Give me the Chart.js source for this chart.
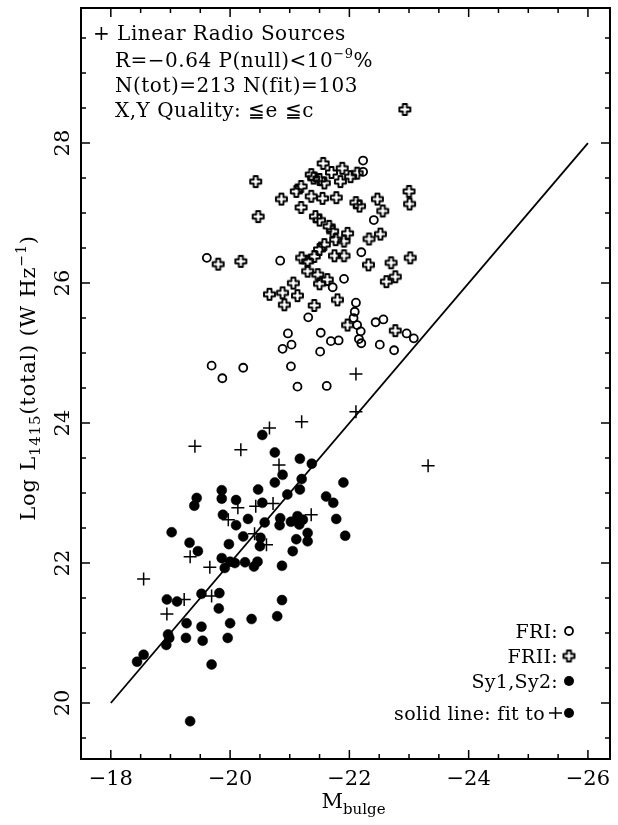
<!DOCTYPE html>
<html>
<head>
<meta charset="utf-8">
<script src="https://cdn.jsdelivr.net/npm/chart.js@4.4.1/dist/chart.umd.min.js"></script>
<style>
  html, body { margin: 0; padding: 0; background: #fff; }
  #wrap { width: 618px; height: 825px; }
</style>
</head>
<body>
<div id="wrap"><canvas id="myChart"></canvas></div>
<script>
// linear radio sources (+)
const lrsX = [-22.11, -22.11, -21.20, -20.66, -19.41, -20.18, -20.82, -20.13, -19.97, -20.43, -20.72,
  -21.36, -20.41, -20.61, -19.33, -19.66, -18.55, -19.23, -19.69, -18.94, -23.32];
const lrsY = [24.16, 24.70, 24.02, 23.93, 23.67, 23.62, 23.40, 22.79, 22.62, 22.81, 22.85,
  22.69, 22.42, 22.26, 22.09, 21.94, 21.77, 21.48, 21.53, 21.27, 23.39];

// FRI (open circles)
const friX = [-22.23, -22.23, -19.61, -20.84, -22.20, -21.91, -21.72, -22.11, -22.09, -22.07, -22.13,
  -22.19, -22.16, -22.20, -21.31, -22.44, -22.57, -22.96, -23.08, -20.97, -21.52, -21.69, -21.82,
  -21.03, -20.88, -21.51, -22.51, -22.75, -19.69, -19.87, -20.22, -21.02, -21.13, -21.62, -22.41];
const friY = [27.75, 27.59, 26.36, 26.32, 26.44, 26.06, 25.94, 25.72, 25.59, 25.50, 25.40,
  25.31, 25.20, 25.14, 25.51, 25.44, 25.48, 25.28, 25.21, 25.28, 25.29, 25.17, 25.18,
  25.12, 25.06, 25.02, 25.12, 25.04, 24.82, 24.64, 24.79, 24.81, 24.52, 24.53, 26.90];

// FRII (open crosses)
const friiX = [-21.56, -20.43, -21.36, -21.70, -21.88, -22.02, -22.13, -21.85, -21.50, -21.58, -21.40,
  -21.19, -21.11, -21.36, -21.55, -21.78, -20.86, -21.19, -20.47, -22.11, -22.17, -22.47, -22.56,
  -23.00, -23.01, -21.50, -21.43, -21.66, -21.72, -21.77, -21.97, -21.91, -22.33, -22.52, -21.58,
  -21.50, -21.41, -21.30, -21.20, -21.75, -21.91, -19.80, -20.18, -22.32, -22.70, -23.02, -21.30,
  -21.47, -21.63, -21.50, -22.77, -22.62, -21.06, -20.88, -21.13, -20.66, -20.91, -21.41, -21.80,
  -21.97, -22.77, -22.93];
const friiY = [27.71, 27.45, 27.55, 27.58, 27.64, 27.52, 27.57, 27.45, 27.48, 27.43, 27.50,
  27.38, 27.31, 27.24, 27.21, 27.22, 27.20, 27.08, 26.95, 27.15, 27.10, 27.20, 27.03,
  27.31, 27.13, 26.90, 26.95, 26.81, 26.74, 26.62, 26.71, 26.60, 26.63, 26.70, 26.55,
  26.48, 26.38, 26.31, 26.36, 26.39, 26.39, 26.27, 26.31, 26.26, 26.29, 26.36, 26.17,
  26.12, 26.05, 25.99, 26.09, 26.02, 26.00, 25.86, 25.82, 25.84, 25.69, 25.68, 25.76,
  25.40, 25.32, 28.48];

// Sy1, Sy2 (filled circles)
const syX = [-20.54, -20.75, -21.17, -21.37, -20.88, -20.75, -21.20, -21.90, -20.47, -19.86, -19.86,
  -19.44, -19.40, -20.10, -20.54, -20.96, -21.17, -21.61, -21.73, -19.88, -20.10, -20.30, -20.58,
  -20.84, -20.83, -21.02, -21.13, -21.22, -21.16, -21.30, -21.30, -21.11, -21.78, -21.93, -19.02,
  -19.32, -19.46, -19.98, -20.22, -20.51, -20.50, -21.05, -19.86, -20.00, -19.91, -20.08, -20.25,
  -20.40, -20.46, -20.87, -19.52, -19.82, -19.81, -18.94, -19.11, -20.87, -20.79, -20.36, -20.00,
  -19.27, -19.52, -18.96, -18.98, -18.93, -19.26, -19.54, -19.96, -18.55, -18.44, -19.69, -19.33];
const syY = [23.83, 23.58, 23.49, 23.42, 23.26, 23.15, 23.20, 23.15, 23.05, 23.04, 22.92,
  22.93, 22.82, 22.90, 22.86, 22.98, 23.05, 22.95, 22.86, 22.69, 22.54, 22.63, 22.58,
  22.64, 22.54, 22.59, 22.67, 22.62, 22.55, 22.43, 22.31, 22.34, 22.63, 22.39, 22.44,
  22.29, 22.17, 22.27, 22.38, 22.36, 22.24, 22.17, 22.07, 22.02, 21.93, 22.00, 22.01,
  21.95, 22.02, 21.96, 21.56, 21.57, 21.35, 21.48, 21.45, 21.47, 21.24, 21.20, 21.14,
  21.14, 21.09, 20.98, 20.93, 20.83, 20.93, 20.89, 20.93, 20.69, 20.59, 20.55, 19.74];

// fit line end points
const fitX = [-18, -26];
const fitY = [20, 28];

const xTickVals = [-18, -20, -22, -24, -26];
const xTickLabels = ['\u221218', '\u221220', '\u221222', '\u221224', '\u221226'];
const yTickVals = [20, 22, 24, 26, 28];
const yTickLabels = ['20', '22', '24', '26', '28'];

const SERIF = '"DejaVu Serif", "Liberation Serif", serif';

const pts = (xs, ys) => xs.map((x, i) => ({ x: x, y: ys[i] }));

// open greek cross marker for FRII
const greekCross = () => {
  const c = document.createElement('canvas');
  c.width = 15;
  c.height = 15;
  const g = c.getContext('2d');
  const a = 2, b = 5.5;
  g.translate(7.5, 7.5);
  g.lineWidth = 1.9;
  g.lineJoin = 'round';
  g.strokeStyle = '#000';
  g.beginPath();
  g.moveTo(-a, -b); g.lineTo(a, -b); g.lineTo(a, -a); g.lineTo(b, -a);
  g.lineTo(b, a); g.lineTo(a, a); g.lineTo(a, b); g.lineTo(-a, b);
  g.lineTo(-a, a); g.lineTo(-b, a); g.lineTo(-b, -a); g.lineTo(-a, -a);
  g.closePath();
  g.stroke();
  return c;
};
const friiMark = greekCross();

// draws a run of text pieces [text, size, dy]
const drawPieces = (ctx, pieces, x, y, align, spacing) => {
  ctx.letterSpacing = (spacing || 0) + 'px';
  let w = 0;
  pieces.forEach(p => { ctx.font = p[1] + 'px ' + SERIF; w += ctx.measureText(p[0]).width; });
  let cx = align === 'right' ? x - w : align === 'center' ? x - w / 2 : x;
  ctx.textAlign = 'left';
  pieces.forEach(p => {
    ctx.font = p[1] + 'px ' + SERIF;
    ctx.fillText(p[0], cx, y + p[2]);
    cx += ctx.measureText(p[0]).width;
  });
  ctx.letterSpacing = '0px';
  return w;
};

const framePlugin = {
  id: 'frame',
  afterDraw(chart) {
    const { ctx, chartArea: a, scales: { x, y } } = chart;
    ctx.save();
    ctx.strokeStyle = '#000';
    ctx.fillStyle = '#000';
    ctx.lineWidth = 2;
    ctx.strokeRect(a.left, a.top, a.right - a.left, a.bottom - a.top);

    // inward ticks, minor every 0.5
    ctx.lineWidth = 1.5;
    ctx.beginPath();
    for (let v = -18; v >= -26; v -= 0.5) {
      const px = x.getPixelForValue(v);
      const len = v % 2 === 0 ? 9 : 5;
      ctx.moveTo(px, a.bottom); ctx.lineTo(px, a.bottom - len);
      ctx.moveTo(px, a.top); ctx.lineTo(px, a.top + len);
    }
    for (let v = 19.5; v <= 29.5; v += 0.5) {
      const py = y.getPixelForValue(v);
      const len = v % 2 === 0 ? 9 : 5;
      ctx.moveTo(a.left, py); ctx.lineTo(a.left + len, py);
      ctx.moveTo(a.right, py); ctx.lineTo(a.right - len, py);
    }
    ctx.stroke();

    // tick labels
    ctx.font = '21px ' + SERIF;
    ctx.textAlign = 'center';
    ctx.textBaseline = 'middle';
    xTickVals.forEach((v, i) => ctx.fillText(xTickLabels[i], x.getPixelForValue(v), a.bottom + 21));
    yTickVals.forEach((v, i) => {
      ctx.save();
      ctx.translate(a.left - 17, y.getPixelForValue(v));
      ctx.rotate(-Math.PI / 2);
      ctx.fillText(yTickLabels[i], 0, 0);
      ctx.restore();
    });

    // axis titles
    ctx.textBaseline = 'alphabetic';
    drawPieces(ctx, [['M', 21, 0], ['bulge', 15, 6]], (a.left + a.right) / 2 + 8, 808, 'center');
    ctx.save();
    ctx.translate(35, 378);
    ctx.rotate(-Math.PI / 2);
    drawPieces(ctx, [['Log L', 21, 0], ['1415', 15, 5], ['(total) (W Hz', 21, 0], ['\u22121', 14, -9], [')', 21, 0]], 0, 0, 'center', 0.8);
    ctx.restore();

    // info block
    drawPieces(ctx, [['+ Linear Radio Sources', 20, 0]], 93, 40, 'left', 0.5);
    drawPieces(ctx, [['R=\u22120.64 P(null)<10', 20, 0], ['\u22129', 13, -9], ['%', 20, 0]], 115, 67, 'left', 0.5);
    drawPieces(ctx, [['N(tot)=213 N(fit)=103', 20, 0]], 115, 92, 'left', 0.5);
    drawPieces(ctx, [['X,Y Quality: \u2266e \u2266c', 20, 0]], 115, 117, 'left', 0.5);

    // legend
    const lx = 569;
    drawPieces(ctx, [['FRI:', 19, 0]], lx - 11, 638, 'right', 0.3);
    ctx.lineWidth = 1.8;
    ctx.beginPath(); ctx.arc(lx, 631, 4, 0, Math.PI * 2); ctx.stroke();
    drawPieces(ctx, [['FRII:', 19, 0]], lx - 11, 663, 'right', 0.3);
    ctx.drawImage(friiMark, lx - 7.5, 656 - 7.5);
    drawPieces(ctx, [['Sy1,Sy2:', 19, 0]], lx - 11, 688, 'right', 0.3);
    ctx.beginPath(); ctx.arc(lx, 681, 5, 0, Math.PI * 2); ctx.fill();
    drawPieces(ctx, [['solid line: fit to', 19, 0]], lx - 24, 720, 'right', 0.3);
    ctx.beginPath(); ctx.arc(lx, 713, 5, 0, Math.PI * 2); ctx.fill();
    ctx.lineWidth = 1.5;
    ctx.beginPath();
    ctx.moveTo(lx - 20, 713); ctx.lineTo(lx - 7, 713);
    ctx.moveTo(lx - 13.5, 707); ctx.lineTo(lx - 13.5, 719);
    ctx.stroke();
    ctx.restore();
  }
};

const myChartRef = document.getElementById('myChart').getContext('2d');
new Chart(myChartRef, {
  type: 'scatter',
  data: {
    datasets: [
      {
        label: 'fit',
        type: 'line',
        data: pts(fitX, fitY),
        borderColor: '#000',
        borderWidth: 1.8,
        pointRadius: 0,
        fill: false,
      },
      {
        label: 'Sy1,Sy2',
        data: pts(syX, syY),
        pointStyle: 'circle',
        pointRadius: 5,
        backgroundColor: '#000',
        borderColor: '#000',
        borderWidth: 0.5,
      },
      {
        label: 'FRI',
        data: pts(friX, friY),
        pointStyle: 'circle',
        pointRadius: 4,
        backgroundColor: 'rgba(0,0,0,0)',
        borderColor: '#000',
        borderWidth: 1.8,
      },
      {
        label: 'FRII',
        data: pts(friiX, friiY),
        pointStyle: friiMark,
      },
      {
        label: 'Linear Radio Sources',
        data: pts(lrsX, lrsY),
        pointStyle: 'cross',
        pointRadius: 6.5,
        borderColor: '#000',
        borderWidth: 1.5,
      },
    ],
  },
  options: {
    responsive: true,
    maintainAspectRatio: false,
    animation: false,
    layout: { padding: { top: 8, right: 3, left: 0, bottom: 0 } },
    plugins: { legend: { display: false }, tooltip: { enabled: false } },
    scales: {
      x: {
        type: 'linear',
        reverse: true,
        min: -26.37,
        max: -17.5,
        grid: { display: false },
        border: { display: false },
        ticks: { display: false },
        afterFit: s => { s.height = 66; },
      },
      y: {
        type: 'linear',
        min: 19.2,
        max: 29.93,
        grid: { display: false },
        border: { display: false },
        ticks: { display: false },
        afterFit: s => { s.width = 81; },
      },
    },
  },
  plugins: [framePlugin],
});
</script>
</body>
</html>
